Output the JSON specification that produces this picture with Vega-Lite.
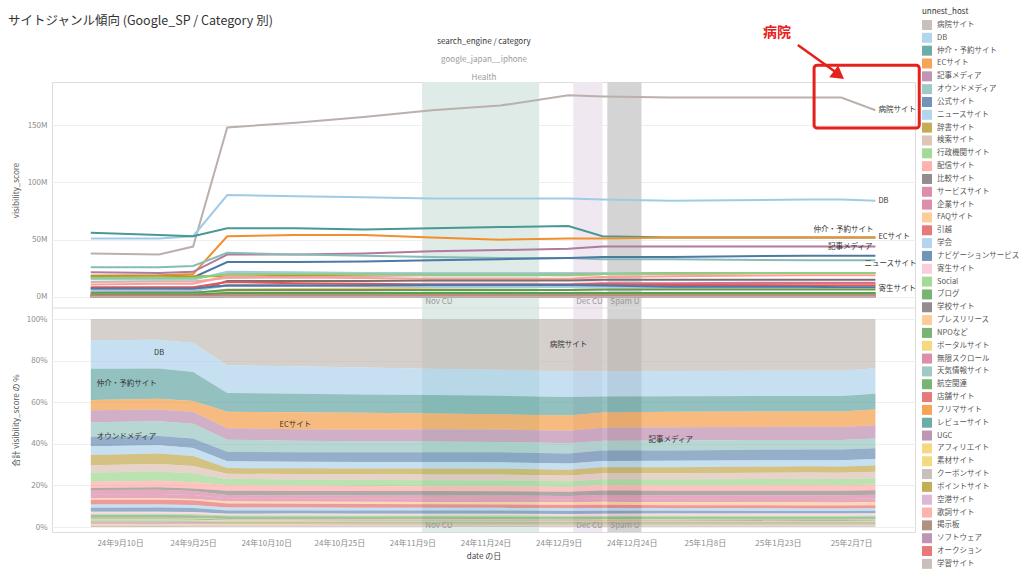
{
"$schema": "https://vega.github.io/schema/vega-lite/v6.json",
"width": 863, "height": 450,
"autosize": {"type": "none"},
"padding": {"left": 52, "top": 82, "right": 109, "bottom": 39},
"background": "white",
"config": {
  "font": "Noto Sans CJK JP",
  "view": {"stroke": "#dcdcdc"},
  "axis": {"labelFontSize": 8, "labelColor": "#8c8c8c", "titleFontSize": 8, "titleFontWeight": "normal", "titleColor": "#555555", "domain": false, "ticks": false, "gridColor": "#efefef"},
  "legend": {"labelFont": "Noto Sans CJK JP", "titleFont": "Noto Sans CJK JP"}
},
"title": {"text": "サイトジャンル傾向 (Google_SP / Category 別)", "anchor": "start", "frame": "group", "dx": -44, "offset": -19, "fontSize": 12.5, "fontWeight": "normal", "color": "#333333"},
"datasets": {
  "hosts": [
    {"h":0,"host":"病院サイト"},{"h":1,"host":"DB"},{"h":2,"host":"仲介・予約サイト"},{"h":3,"host":"ECサイト"},{"h":4,"host":"記事メディア"},{"h":5,"host":"オウンドメディア"},{"h":6,"host":"公式サイト"},{"h":7,"host":"ニュースサイト"},{"h":8,"host":"辞書サイト"},{"h":9,"host":"検索サイト"},{"h":10,"host":"行政機関サイト"},{"h":11,"host":"配信サイト"},{"h":12,"host":"比較サイト"},{"h":13,"host":"サービスサイト"},{"h":14,"host":"企業サイト"},{"h":15,"host":"FAQサイト"},{"h":16,"host":"引越"},{"h":17,"host":"学会"},{"h":18,"host":"ナビゲーションサービス"},{"h":19,"host":"寄生サイト"},{"h":20,"host":"Social"},{"h":21,"host":"ブログ"},{"h":22,"host":"学校サイト"},{"h":23,"host":"プレスリリース"},{"h":24,"host":"NPOなど"},{"h":25,"host":"ポータルサイト"},{"h":26,"host":"無限スクロール"},{"h":27,"host":"天気情報サイト"},{"h":28,"host":"航空関連"},{"h":29,"host":"店舗サイト"},{"h":30,"host":"フリマサイト"},{"h":31,"host":"レビューサイト"},{"h":32,"host":"UGC"},{"h":33,"host":"アフィリエイト"},{"h":34,"host":"素材サイト"},{"h":35,"host":"クーポンサイト"},{"h":36,"host":"ポイントサイト"},{"h":37,"host":"空港サイト"},{"h":38,"host":"歌詞サイト"},{"h":39,"host":"掲示板"},{"h":40,"host":"ソフトウェア"},{"h":41,"host":"オークション"},{"h":42,"host":"学習サイト"}
  ],
  "bands": [
    {"update":"Nov CU","start":"2024-11-11","end":"2024-12-05"},
    {"update":"Dec CU","start":"2024-12-12","end":"2024-12-18"},
    {"update":"Spam U","start":"2024-12-19","end":"2024-12-26"}
  ],
  "rows": [
{"h":0,"d":"2024-09-04","v":38},{"h":0,"d":"2024-09-18","v":37},{"h":0,"d":"2024-09-25","v":44},{"h":0,"d":"2024-10-02","v":148},{"h":0,"d":"2024-10-16","v":152},{"h":0,"d":"2024-10-30","v":157},{"h":0,"d":"2024-11-13","v":163},{"h":0,"d":"2024-11-27","v":167},{"h":0,"d":"2024-12-11","v":176},{"h":0,"d":"2024-12-18","v":175},{"h":0,"d":"2025-01-01","v":174},{"h":0,"d":"2025-01-29","v":174},{"h":0,"d":"2025-02-05","v":174},{"h":0,"d":"2025-02-12","v":163},
{"h":1,"d":"2024-09-04","v":51},{"h":1,"d":"2024-09-18","v":51},{"h":1,"d":"2024-09-25","v":53},{"h":1,"d":"2024-10-02","v":89},{"h":1,"d":"2024-10-16","v":88},{"h":1,"d":"2024-10-30","v":87},{"h":1,"d":"2024-11-13","v":86},{"h":1,"d":"2024-11-27","v":86},{"h":1,"d":"2024-12-11","v":86},{"h":1,"d":"2024-12-18","v":85},{"h":1,"d":"2025-01-01","v":84},{"h":1,"d":"2025-01-29","v":85},{"h":1,"d":"2025-02-05","v":85},{"h":1,"d":"2025-02-12","v":84},
{"h":2,"d":"2024-09-04","v":56},{"h":2,"d":"2024-09-18","v":54},{"h":2,"d":"2024-09-25","v":53},{"h":2,"d":"2024-10-02","v":60},{"h":2,"d":"2024-10-16","v":60},{"h":2,"d":"2024-10-30","v":59},{"h":2,"d":"2024-11-13","v":60},{"h":2,"d":"2024-11-27","v":61},{"h":2,"d":"2024-12-11","v":62},{"h":2,"d":"2024-12-18","v":53},{"h":2,"d":"2025-01-01","v":52},{"h":2,"d":"2025-01-29","v":52},{"h":2,"d":"2025-02-05","v":52},{"h":2,"d":"2025-02-12","v":52},
{"h":3,"d":"2024-09-04","v":18.5},{"h":3,"d":"2024-09-18","v":19},{"h":3,"d":"2024-09-25","v":20},{"h":3,"d":"2024-10-02","v":53},{"h":3,"d":"2024-10-16","v":54},{"h":3,"d":"2024-10-30","v":54},{"h":3,"d":"2024-11-13","v":52},{"h":3,"d":"2024-11-27","v":50},{"h":3,"d":"2024-12-11","v":51},{"h":3,"d":"2024-12-18","v":51},{"h":3,"d":"2025-01-01","v":52},{"h":3,"d":"2025-01-29","v":52},{"h":3,"d":"2025-02-05","v":52},{"h":3,"d":"2025-02-12","v":52},
{"h":4,"d":"2024-09-04","v":21.5},{"h":4,"d":"2024-09-18","v":21},{"h":4,"d":"2024-09-25","v":22},{"h":4,"d":"2024-10-02","v":37},{"h":4,"d":"2024-10-16","v":37},{"h":4,"d":"2024-10-30","v":38},{"h":4,"d":"2024-11-13","v":40},{"h":4,"d":"2024-11-27","v":41},{"h":4,"d":"2024-12-11","v":42},{"h":4,"d":"2024-12-18","v":44},{"h":4,"d":"2025-01-01","v":44},{"h":4,"d":"2025-01-29","v":44},{"h":4,"d":"2025-02-05","v":44},{"h":4,"d":"2025-02-12","v":44},
{"h":5,"d":"2024-09-04","v":26},{"h":5,"d":"2024-09-18","v":26},{"h":5,"d":"2024-09-25","v":27},{"h":5,"d":"2024-10-02","v":38.5},{"h":5,"d":"2024-10-16","v":37},{"h":5,"d":"2024-10-30","v":36},{"h":5,"d":"2024-11-13","v":35},{"h":5,"d":"2024-11-27","v":34},{"h":5,"d":"2024-12-11","v":34},{"h":5,"d":"2024-12-18","v":33},{"h":5,"d":"2025-01-01","v":33},{"h":5,"d":"2025-01-29","v":32},{"h":5,"d":"2025-02-05","v":32},{"h":5,"d":"2025-02-12","v":32},
{"h":6,"d":"2024-09-04","v":17},{"h":6,"d":"2024-09-18","v":16.5},{"h":6,"d":"2024-09-25","v":17},{"h":6,"d":"2024-10-02","v":30.5},{"h":6,"d":"2024-10-16","v":30.5},{"h":6,"d":"2024-10-30","v":31},{"h":6,"d":"2024-11-13","v":32},{"h":6,"d":"2024-11-27","v":33},{"h":6,"d":"2024-12-11","v":34},{"h":6,"d":"2024-12-18","v":35},{"h":6,"d":"2025-01-01","v":35},{"h":6,"d":"2025-01-29","v":36},{"h":6,"d":"2025-02-05","v":36},{"h":6,"d":"2025-02-12","v":36},
{"h":7,"d":"2024-09-04","v":15.5},{"h":7,"d":"2024-09-18","v":15},{"h":7,"d":"2024-09-25","v":15},{"h":7,"d":"2024-10-02","v":22},{"h":7,"d":"2024-10-16","v":21.5},{"h":7,"d":"2024-10-30","v":21},{"h":7,"d":"2024-11-13","v":21},{"h":7,"d":"2024-11-27","v":21},{"h":7,"d":"2024-12-11","v":21},{"h":7,"d":"2024-12-18","v":21},{"h":7,"d":"2025-01-01","v":21},{"h":7,"d":"2025-01-29","v":21},{"h":7,"d":"2025-02-05","v":21},{"h":7,"d":"2025-02-12","v":21},
{"h":8,"d":"2024-09-04","v":18.5},{"h":8,"d":"2024-09-18","v":18.5},{"h":8,"d":"2024-09-25","v":18},{"h":8,"d":"2024-10-02","v":18},{"h":8,"d":"2024-10-16","v":18.5},{"h":8,"d":"2024-10-30","v":19},{"h":8,"d":"2024-11-13","v":19.5},{"h":8,"d":"2024-11-27","v":19.5},{"h":8,"d":"2024-12-11","v":19.5},{"h":8,"d":"2024-12-18","v":20},{"h":8,"d":"2025-01-01","v":20.5},{"h":8,"d":"2025-01-29","v":21},{"h":8,"d":"2025-02-05","v":21},{"h":8,"d":"2025-02-12","v":21},
{"h":9,"d":"2024-09-04","v":13},{"h":9,"d":"2024-09-18","v":13.5},{"h":9,"d":"2024-09-25","v":13.5},{"h":9,"d":"2024-10-02","v":16.5},{"h":9,"d":"2024-10-16","v":17},{"h":9,"d":"2024-10-30","v":18},{"h":9,"d":"2024-11-13","v":19},{"h":9,"d":"2024-11-27","v":19},{"h":9,"d":"2024-12-11","v":19},{"h":9,"d":"2024-12-18","v":20},{"h":9,"d":"2025-01-01","v":20},{"h":9,"d":"2025-01-29","v":21},{"h":9,"d":"2025-02-05","v":21},{"h":9,"d":"2025-02-12","v":21},
{"h":10,"d":"2024-09-04","v":16.5},{"h":10,"d":"2024-09-18","v":16.5},{"h":10,"d":"2024-09-25","v":16.5},{"h":10,"d":"2024-10-02","v":20},{"h":10,"d":"2024-10-16","v":20},{"h":10,"d":"2024-10-30","v":20},{"h":10,"d":"2024-11-13","v":19.5},{"h":10,"d":"2024-11-27","v":19.5},{"h":10,"d":"2024-12-11","v":19},{"h":10,"d":"2024-12-18","v":20},{"h":10,"d":"2025-01-01","v":20.5},{"h":10,"d":"2025-01-29","v":21},{"h":10,"d":"2025-02-05","v":21},{"h":10,"d":"2025-02-12","v":21},
{"h":11,"d":"2024-09-04","v":11},{"h":11,"d":"2024-09-18","v":11.5},{"h":11,"d":"2024-09-25","v":11.5},{"h":11,"d":"2024-10-02","v":18},{"h":11,"d":"2024-10-16","v":17},{"h":11,"d":"2024-10-30","v":16.5},{"h":11,"d":"2024-11-13","v":16},{"h":11,"d":"2024-11-27","v":16},{"h":11,"d":"2024-12-11","v":16},{"h":11,"d":"2024-12-18","v":17.5},{"h":11,"d":"2025-01-01","v":18},{"h":11,"d":"2025-01-29","v":19},{"h":11,"d":"2025-02-05","v":19},{"h":11,"d":"2025-02-12","v":19},
{"h":12,"d":"2024-09-04","v":4},{"h":12,"d":"2024-09-18","v":4.5},{"h":12,"d":"2024-09-25","v":4.5},{"h":12,"d":"2024-10-02","v":14},{"h":12,"d":"2024-10-16","v":14},{"h":12,"d":"2024-10-30","v":14},{"h":12,"d":"2024-11-13","v":14.5},{"h":12,"d":"2024-11-27","v":14.5},{"h":12,"d":"2024-12-11","v":14.5},{"h":12,"d":"2024-12-18","v":15},{"h":12,"d":"2025-01-01","v":15},{"h":12,"d":"2025-01-29","v":15},{"h":12,"d":"2025-02-05","v":15},{"h":12,"d":"2025-02-12","v":15},
{"h":13,"d":"2024-09-04","v":7.4},{"h":13,"d":"2024-09-18","v":7.5},{"h":13,"d":"2024-09-25","v":7.5},{"h":13,"d":"2024-10-02","v":10},{"h":13,"d":"2024-10-16","v":10},{"h":13,"d":"2024-10-30","v":10.5},{"h":13,"d":"2024-11-13","v":11},{"h":13,"d":"2024-11-27","v":11},{"h":13,"d":"2024-12-11","v":11},{"h":13,"d":"2024-12-18","v":12},{"h":13,"d":"2025-01-01","v":12},{"h":13,"d":"2025-01-29","v":12.5},{"h":13,"d":"2025-02-05","v":12.5},{"h":13,"d":"2025-02-12","v":12.5},
{"h":14,"d":"2024-09-04","v":7.4},{"h":14,"d":"2024-09-18","v":7.4},{"h":14,"d":"2024-09-25","v":7},{"h":14,"d":"2024-10-02","v":10},{"h":14,"d":"2024-10-16","v":10},{"h":14,"d":"2024-10-30","v":10},{"h":14,"d":"2024-11-13","v":10},{"h":14,"d":"2024-11-27","v":10},{"h":14,"d":"2024-12-11","v":10},{"h":14,"d":"2024-12-18","v":11},{"h":14,"d":"2025-01-01","v":11},{"h":14,"d":"2025-01-29","v":11.5},{"h":14,"d":"2025-02-05","v":11.5},{"h":14,"d":"2025-02-12","v":11.5},
{"h":15,"d":"2024-09-04","v":2.6},{"h":15,"d":"2024-09-18","v":2.6},{"h":15,"d":"2024-09-25","v":2.5},{"h":15,"d":"2024-10-02","v":6.6},{"h":15,"d":"2024-10-16","v":7},{"h":15,"d":"2024-10-30","v":7.5},{"h":15,"d":"2024-11-13","v":8},{"h":15,"d":"2024-11-27","v":8.5},{"h":15,"d":"2024-12-11","v":9},{"h":15,"d":"2024-12-18","v":10},{"h":15,"d":"2025-01-01","v":10},{"h":15,"d":"2025-01-29","v":10.5},{"h":15,"d":"2025-02-05","v":10.5},{"h":15,"d":"2025-02-12","v":10.5},
{"h":16,"d":"2024-09-04","v":8.5},{"h":16,"d":"2024-09-18","v":8.5},{"h":16,"d":"2024-09-25","v":8.5},{"h":16,"d":"2024-10-02","v":13},{"h":16,"d":"2024-10-16","v":12},{"h":16,"d":"2024-10-30","v":11.5},{"h":16,"d":"2024-11-13","v":11},{"h":16,"d":"2024-11-27","v":11},{"h":16,"d":"2024-12-11","v":11},{"h":16,"d":"2024-12-18","v":11},{"h":16,"d":"2025-01-01","v":10.5},{"h":16,"d":"2025-01-29","v":10},{"h":16,"d":"2025-02-05","v":10},{"h":16,"d":"2025-02-12","v":10},
{"h":17,"d":"2024-09-04","v":5.5},{"h":17,"d":"2024-09-18","v":5.5},{"h":17,"d":"2024-09-25","v":5.5},{"h":17,"d":"2024-10-02","v":10},{"h":17,"d":"2024-10-16","v":10},{"h":17,"d":"2024-10-30","v":9.5},{"h":17,"d":"2024-11-13","v":9},{"h":17,"d":"2024-11-27","v":9},{"h":17,"d":"2024-12-11","v":9},{"h":17,"d":"2024-12-18","v":9},{"h":17,"d":"2025-01-01","v":8.5},{"h":17,"d":"2025-01-29","v":8.5},{"h":17,"d":"2025-02-05","v":8.5},{"h":17,"d":"2025-02-12","v":8.5},
{"h":18,"d":"2024-09-04","v":7.4},{"h":18,"d":"2024-09-18","v":7.4},{"h":18,"d":"2024-09-25","v":7.5},{"h":18,"d":"2024-10-02","v":10},{"h":18,"d":"2024-10-16","v":10},{"h":18,"d":"2024-10-30","v":10},{"h":18,"d":"2024-11-13","v":10.5},{"h":18,"d":"2024-11-27","v":10.5},{"h":18,"d":"2024-12-11","v":10.5},{"h":18,"d":"2024-12-18","v":10},{"h":18,"d":"2025-01-01","v":9},{"h":18,"d":"2025-01-29","v":9},{"h":18,"d":"2025-02-05","v":8.5},{"h":18,"d":"2025-02-12","v":8.5},
{"h":19,"d":"2024-09-04","v":3.7},{"h":19,"d":"2024-09-18","v":3.7},{"h":19,"d":"2024-09-25","v":3.8},{"h":19,"d":"2024-10-02","v":5.3},{"h":19,"d":"2024-10-16","v":5.5},{"h":19,"d":"2024-10-30","v":5.5},{"h":19,"d":"2024-11-13","v":6},{"h":19,"d":"2024-11-27","v":6},{"h":19,"d":"2024-12-11","v":6},{"h":19,"d":"2024-12-18","v":6.5},{"h":19,"d":"2025-01-01","v":7},{"h":19,"d":"2025-01-29","v":7},{"h":19,"d":"2025-02-05","v":7},{"h":19,"d":"2025-02-12","v":7},
{"h":20,"d":"2024-09-04","v":1.9},{"h":20,"d":"2024-09-18","v":1.9},{"h":20,"d":"2024-09-25","v":1.9},{"h":20,"d":"2024-10-02","v":3.3},{"h":20,"d":"2024-10-16","v":3.5},{"h":20,"d":"2024-10-30","v":3.5},{"h":20,"d":"2024-11-13","v":3.5},{"h":20,"d":"2024-11-27","v":3.5},{"h":20,"d":"2024-12-11","v":3.5},{"h":20,"d":"2024-12-18","v":3.5},{"h":20,"d":"2025-01-01","v":3.5},{"h":20,"d":"2025-01-29","v":3.5},{"h":20,"d":"2025-02-05","v":3.5},{"h":20,"d":"2025-02-12","v":3.5},
{"h":21,"d":"2024-09-04","v":3.7},{"h":21,"d":"2024-09-18","v":3.7},{"h":21,"d":"2024-09-25","v":3.7},{"h":21,"d":"2024-10-02","v":6},{"h":21,"d":"2024-10-16","v":6},{"h":21,"d":"2024-10-30","v":6},{"h":21,"d":"2024-11-13","v":6},{"h":21,"d":"2024-11-27","v":6},{"h":21,"d":"2024-12-11","v":6},{"h":21,"d":"2024-12-18","v":6.5},{"h":21,"d":"2025-01-01","v":6.5},{"h":21,"d":"2025-01-29","v":6.5},{"h":21,"d":"2025-02-05","v":6.5},{"h":21,"d":"2025-02-12","v":6.5},
{"h":22,"d":"2024-09-04","v":1.5},{"h":22,"d":"2024-09-18","v":1.5},{"h":22,"d":"2024-09-25","v":1.5},{"h":22,"d":"2024-10-02","v":2.5},{"h":22,"d":"2024-10-16","v":2.5},{"h":22,"d":"2024-10-30","v":2.5},{"h":22,"d":"2024-11-13","v":2.5},{"h":22,"d":"2024-11-27","v":2.5},{"h":22,"d":"2024-12-11","v":2.5},{"h":22,"d":"2024-12-18","v":2.5},{"h":22,"d":"2025-01-01","v":2.5},{"h":22,"d":"2025-01-29","v":2.5},{"h":22,"d":"2025-02-05","v":2.5},{"h":22,"d":"2025-02-12","v":2.5},
{"h":23,"d":"2024-09-04","v":1},{"h":23,"d":"2024-09-18","v":1},{"h":23,"d":"2024-09-25","v":1},{"h":23,"d":"2024-10-02","v":1.5},{"h":23,"d":"2024-10-16","v":1.5},{"h":23,"d":"2024-10-30","v":1.5},{"h":23,"d":"2024-11-13","v":1.5},{"h":23,"d":"2024-11-27","v":1.5},{"h":23,"d":"2024-12-11","v":1.5},{"h":23,"d":"2024-12-18","v":1.5},{"h":23,"d":"2025-01-01","v":1.5},{"h":23,"d":"2025-01-29","v":1.5},{"h":23,"d":"2025-02-05","v":1.5},{"h":23,"d":"2025-02-12","v":1.5},
{"h":24,"d":"2024-09-04","v":2},{"h":24,"d":"2024-09-18","v":2},{"h":24,"d":"2024-09-25","v":2},{"h":24,"d":"2024-10-02","v":3.5},{"h":24,"d":"2024-10-16","v":3.5},{"h":24,"d":"2024-10-30","v":3.5},{"h":24,"d":"2024-11-13","v":3.5},{"h":24,"d":"2024-11-27","v":3.5},{"h":24,"d":"2024-12-11","v":3.5},{"h":24,"d":"2024-12-18","v":3.5},{"h":24,"d":"2025-01-01","v":3.5},{"h":24,"d":"2025-01-29","v":3.5},{"h":24,"d":"2025-02-05","v":3.5},{"h":24,"d":"2025-02-12","v":3.5},
{"h":25,"d":"2024-09-04","v":1.5},{"h":25,"d":"2024-09-18","v":1.5},{"h":25,"d":"2024-09-25","v":1.5},{"h":25,"d":"2024-10-02","v":2},{"h":25,"d":"2024-10-16","v":2},{"h":25,"d":"2024-10-30","v":2},{"h":25,"d":"2024-11-13","v":2},{"h":25,"d":"2024-11-27","v":2},{"h":25,"d":"2024-12-11","v":2},{"h":25,"d":"2024-12-18","v":2},{"h":25,"d":"2025-01-01","v":2},{"h":25,"d":"2025-01-29","v":2},{"h":25,"d":"2025-02-05","v":2},{"h":25,"d":"2025-02-12","v":2},
{"h":26,"d":"2024-09-04","v":1},{"h":26,"d":"2024-09-18","v":1},{"h":26,"d":"2024-09-25","v":1},{"h":26,"d":"2024-10-02","v":1.5},{"h":26,"d":"2024-10-16","v":1.5},{"h":26,"d":"2024-10-30","v":1.5},{"h":26,"d":"2024-11-13","v":1.5},{"h":26,"d":"2024-11-27","v":1.5},{"h":26,"d":"2024-12-11","v":1.5},{"h":26,"d":"2024-12-18","v":1.5},{"h":26,"d":"2025-01-01","v":1.5},{"h":26,"d":"2025-01-29","v":1.5},{"h":26,"d":"2025-02-05","v":1.5},{"h":26,"d":"2025-02-12","v":1.5},
{"h":27,"d":"2024-09-04","v":1},{"h":27,"d":"2024-09-18","v":1},{"h":27,"d":"2024-09-25","v":1},{"h":27,"d":"2024-10-02","v":1.5},{"h":27,"d":"2024-10-16","v":1.5},{"h":27,"d":"2024-10-30","v":1.5},{"h":27,"d":"2024-11-13","v":1.5},{"h":27,"d":"2024-11-27","v":1.5},{"h":27,"d":"2024-12-11","v":1.5},{"h":27,"d":"2024-12-18","v":1.5},{"h":27,"d":"2025-01-01","v":1.5},{"h":27,"d":"2025-01-29","v":1.5},{"h":27,"d":"2025-02-05","v":1.5},{"h":27,"d":"2025-02-12","v":1.5},
{"h":28,"d":"2024-09-04","v":1.5},{"h":28,"d":"2024-09-18","v":1.5},{"h":28,"d":"2024-09-25","v":1.5},{"h":28,"d":"2024-10-02","v":3},{"h":28,"d":"2024-10-16","v":3},{"h":28,"d":"2024-10-30","v":3},{"h":28,"d":"2024-11-13","v":3},{"h":28,"d":"2024-11-27","v":3},{"h":28,"d":"2024-12-11","v":3},{"h":28,"d":"2024-12-18","v":3},{"h":28,"d":"2025-01-01","v":3},{"h":28,"d":"2025-01-29","v":3},{"h":28,"d":"2025-02-05","v":3},{"h":28,"d":"2025-02-12","v":3},
{"h":29,"d":"2024-09-04","v":1},{"h":29,"d":"2024-09-18","v":1},{"h":29,"d":"2024-09-25","v":1},{"h":29,"d":"2024-10-02","v":1.5},{"h":29,"d":"2024-10-16","v":1.5},{"h":29,"d":"2024-10-30","v":1.5},{"h":29,"d":"2024-11-13","v":1.5},{"h":29,"d":"2024-11-27","v":1.5},{"h":29,"d":"2024-12-11","v":1.5},{"h":29,"d":"2024-12-18","v":1.5},{"h":29,"d":"2025-01-01","v":1.5},{"h":29,"d":"2025-01-29","v":1.5},{"h":29,"d":"2025-02-05","v":1.5},{"h":29,"d":"2025-02-12","v":1.5},
{"h":30,"d":"2024-09-04","v":0.8},{"h":30,"d":"2024-09-18","v":0.8},{"h":30,"d":"2024-09-25","v":0.8},{"h":30,"d":"2024-10-02","v":1.2},{"h":30,"d":"2024-10-16","v":1.2},{"h":30,"d":"2024-10-30","v":1.2},{"h":30,"d":"2024-11-13","v":1.2},{"h":30,"d":"2024-11-27","v":1.2},{"h":30,"d":"2024-12-11","v":1.2},{"h":30,"d":"2024-12-18","v":1.2},{"h":30,"d":"2025-01-01","v":1.2},{"h":30,"d":"2025-01-29","v":1.2},{"h":30,"d":"2025-02-05","v":1.2},{"h":30,"d":"2025-02-12","v":1.2},
{"h":31,"d":"2024-09-04","v":0.8},{"h":31,"d":"2024-09-18","v":0.8},{"h":31,"d":"2024-09-25","v":0.8},{"h":31,"d":"2024-10-02","v":1.2},{"h":31,"d":"2024-10-16","v":1.2},{"h":31,"d":"2024-10-30","v":1.2},{"h":31,"d":"2024-11-13","v":1.2},{"h":31,"d":"2024-11-27","v":1.2},{"h":31,"d":"2024-12-11","v":1.2},{"h":31,"d":"2024-12-18","v":1.2},{"h":31,"d":"2025-01-01","v":1.2},{"h":31,"d":"2025-01-29","v":1.2},{"h":31,"d":"2025-02-05","v":1.2},{"h":31,"d":"2025-02-12","v":1.2},
{"h":32,"d":"2024-09-04","v":0.8},{"h":32,"d":"2024-09-18","v":0.8},{"h":32,"d":"2024-09-25","v":0.8},{"h":32,"d":"2024-10-02","v":1},{"h":32,"d":"2024-10-16","v":1},{"h":32,"d":"2024-10-30","v":1},{"h":32,"d":"2024-11-13","v":1},{"h":32,"d":"2024-11-27","v":1},{"h":32,"d":"2024-12-11","v":1},{"h":32,"d":"2024-12-18","v":1},{"h":32,"d":"2025-01-01","v":1},{"h":32,"d":"2025-01-29","v":1},{"h":32,"d":"2025-02-05","v":1},{"h":32,"d":"2025-02-12","v":1},
{"h":33,"d":"2024-09-04","v":0.7},{"h":33,"d":"2024-09-18","v":0.7},{"h":33,"d":"2024-09-25","v":0.7},{"h":33,"d":"2024-10-02","v":1},{"h":33,"d":"2024-10-16","v":1},{"h":33,"d":"2024-10-30","v":1},{"h":33,"d":"2024-11-13","v":1},{"h":33,"d":"2024-11-27","v":1},{"h":33,"d":"2024-12-11","v":1},{"h":33,"d":"2024-12-18","v":1},{"h":33,"d":"2025-01-01","v":1},{"h":33,"d":"2025-01-29","v":1},{"h":33,"d":"2025-02-05","v":1},{"h":33,"d":"2025-02-12","v":1},
{"h":34,"d":"2024-09-04","v":0.6},{"h":34,"d":"2024-09-18","v":0.6},{"h":34,"d":"2024-09-25","v":0.6},{"h":34,"d":"2024-10-02","v":0.9},{"h":34,"d":"2024-10-16","v":0.9},{"h":34,"d":"2024-10-30","v":0.9},{"h":34,"d":"2024-11-13","v":0.9},{"h":34,"d":"2024-11-27","v":0.9},{"h":34,"d":"2024-12-11","v":0.9},{"h":34,"d":"2024-12-18","v":0.9},{"h":34,"d":"2025-01-01","v":0.9},{"h":34,"d":"2025-01-29","v":0.9},{"h":34,"d":"2025-02-05","v":0.9},{"h":34,"d":"2025-02-12","v":0.9},
{"h":35,"d":"2024-09-04","v":0.6},{"h":35,"d":"2024-09-18","v":0.6},{"h":35,"d":"2024-09-25","v":0.6},{"h":35,"d":"2024-10-02","v":0.9},{"h":35,"d":"2024-10-16","v":0.9},{"h":35,"d":"2024-10-30","v":0.9},{"h":35,"d":"2024-11-13","v":0.9},{"h":35,"d":"2024-11-27","v":0.9},{"h":35,"d":"2024-12-11","v":0.9},{"h":35,"d":"2024-12-18","v":0.9},{"h":35,"d":"2025-01-01","v":0.9},{"h":35,"d":"2025-01-29","v":0.9},{"h":35,"d":"2025-02-05","v":0.9},{"h":35,"d":"2025-02-12","v":0.9},
{"h":36,"d":"2024-09-04","v":0.6},{"h":36,"d":"2024-09-18","v":0.6},{"h":36,"d":"2024-09-25","v":0.6},{"h":36,"d":"2024-10-02","v":0.9},{"h":36,"d":"2024-10-16","v":0.9},{"h":36,"d":"2024-10-30","v":0.9},{"h":36,"d":"2024-11-13","v":0.9},{"h":36,"d":"2024-11-27","v":0.9},{"h":36,"d":"2024-12-11","v":0.9},{"h":36,"d":"2024-12-18","v":0.9},{"h":36,"d":"2025-01-01","v":0.9},{"h":36,"d":"2025-01-29","v":0.9},{"h":36,"d":"2025-02-05","v":0.9},{"h":36,"d":"2025-02-12","v":0.9},
{"h":37,"d":"2024-09-04","v":0.5},{"h":37,"d":"2024-09-18","v":0.5},{"h":37,"d":"2024-09-25","v":0.5},{"h":37,"d":"2024-10-02","v":0.8},{"h":37,"d":"2024-10-16","v":0.8},{"h":37,"d":"2024-10-30","v":0.8},{"h":37,"d":"2024-11-13","v":0.8},{"h":37,"d":"2024-11-27","v":0.8},{"h":37,"d":"2024-12-11","v":0.8},{"h":37,"d":"2024-12-18","v":0.8},{"h":37,"d":"2025-01-01","v":0.8},{"h":37,"d":"2025-01-29","v":0.8},{"h":37,"d":"2025-02-05","v":0.8},{"h":37,"d":"2025-02-12","v":0.8},
{"h":38,"d":"2024-09-04","v":0.5},{"h":38,"d":"2024-09-18","v":0.5},{"h":38,"d":"2024-09-25","v":0.5},{"h":38,"d":"2024-10-02","v":0.8},{"h":38,"d":"2024-10-16","v":0.8},{"h":38,"d":"2024-10-30","v":0.8},{"h":38,"d":"2024-11-13","v":0.8},{"h":38,"d":"2024-11-27","v":0.8},{"h":38,"d":"2024-12-11","v":0.8},{"h":38,"d":"2024-12-18","v":0.8},{"h":38,"d":"2025-01-01","v":0.8},{"h":38,"d":"2025-01-29","v":0.8},{"h":38,"d":"2025-02-05","v":0.8},{"h":38,"d":"2025-02-12","v":0.8},
{"h":39,"d":"2024-09-04","v":0.5},{"h":39,"d":"2024-09-18","v":0.5},{"h":39,"d":"2024-09-25","v":0.5},{"h":39,"d":"2024-10-02","v":0.7},{"h":39,"d":"2024-10-16","v":0.7},{"h":39,"d":"2024-10-30","v":0.7},{"h":39,"d":"2024-11-13","v":0.7},{"h":39,"d":"2024-11-27","v":0.7},{"h":39,"d":"2024-12-11","v":0.7},{"h":39,"d":"2024-12-18","v":0.7},{"h":39,"d":"2025-01-01","v":0.7},{"h":39,"d":"2025-01-29","v":0.7},{"h":39,"d":"2025-02-05","v":0.7},{"h":39,"d":"2025-02-12","v":0.7},
{"h":40,"d":"2024-09-04","v":0.4},{"h":40,"d":"2024-09-18","v":0.4},{"h":40,"d":"2024-09-25","v":0.4},{"h":40,"d":"2024-10-02","v":0.6},{"h":40,"d":"2024-10-16","v":0.6},{"h":40,"d":"2024-10-30","v":0.6},{"h":40,"d":"2024-11-13","v":0.6},{"h":40,"d":"2024-11-27","v":0.6},{"h":40,"d":"2024-12-11","v":0.6},{"h":40,"d":"2024-12-18","v":0.6},{"h":40,"d":"2025-01-01","v":0.6},{"h":40,"d":"2025-01-29","v":0.6},{"h":40,"d":"2025-02-05","v":0.6},{"h":40,"d":"2025-02-12","v":0.6},
{"h":41,"d":"2024-09-04","v":0.4},{"h":41,"d":"2024-09-18","v":0.4},{"h":41,"d":"2024-09-25","v":0.4},{"h":41,"d":"2024-10-02","v":0.6},{"h":41,"d":"2024-10-16","v":0.6},{"h":41,"d":"2024-10-30","v":0.6},{"h":41,"d":"2024-11-13","v":0.6},{"h":41,"d":"2024-11-27","v":0.6},{"h":41,"d":"2024-12-11","v":0.6},{"h":41,"d":"2024-12-18","v":0.6},{"h":41,"d":"2025-01-01","v":0.6},{"h":41,"d":"2025-01-29","v":0.6},{"h":41,"d":"2025-02-05","v":0.6},{"h":41,"d":"2025-02-12","v":0.6},
{"h":42,"d":"2024-09-04","v":0.3},{"h":42,"d":"2024-09-18","v":0.3},{"h":42,"d":"2024-09-25","v":0.3},{"h":42,"d":"2024-10-02","v":0.5},{"h":42,"d":"2024-10-16","v":0.5},{"h":42,"d":"2024-10-30","v":0.5},{"h":42,"d":"2024-11-13","v":0.5},{"h":42,"d":"2024-11-27","v":0.5},{"h":42,"d":"2024-12-11","v":0.5},{"h":42,"d":"2024-12-18","v":0.5},{"h":42,"d":"2025-01-01","v":0.5},{"h":42,"d":"2025-01-29","v":0.5},{"h":42,"d":"2025-02-05","v":0.5},{"h":42,"d":"2025-02-12","v":0.5}
  ]
},
"data": {"name": "rows"},
"transform": [{"lookup": "h", "from": {"data": {"name": "hosts"}, "key": "h", "fields": ["host"]}}],
"layer": [
  {
    "data": {"name": "bands"},
    "mark": {"type": "rect"},
    "encoding": {
      "x": {"field": "start", "type": "temporal", "scale": {"type": "utc", "nice": false, "domain": [{"year": 2024, "month": 8, "date": 27, "hours": 1, "utc": true}, {"year": 2025, "month": 2, "date": 20, "hours": 3, "utc": true}]},
            "axis": {"orient": "top", "title": "search_engine / category", "labels": false, "grid": false, "titleY": -41, "titleBaseline": "middle", "titleColor": "#333333", "titleFontSize": 8}},
      "x2": {"field": "end"},
      "fill": {"field": "update", "type": "nominal", "scale": {"domain": ["Nov CU", "Dec CU", "Spam U"], "range": ["#deebe6", "#efe8f0", "#d4d4d4"]}, "legend": null}
    }
  },
  {
    "transform": [{"stack": "v", "groupby": ["d"], "sort": [{"field": "h", "order": "descending"}], "offset": "normalize", "as": ["y0", "y1"]}],
    "layer": [
      {
        "mark": {"type": "area", "fillOpacity": 0.6},
        "encoding": {
          "x": {"field": "d", "type": "temporal", "scale": {"type": "utc", "nice": false, "domain": [{"year": 2024, "month": 8, "date": 27, "hours": 1, "utc": true}, {"year": 2025, "month": 2, "date": 20, "hours": 3, "utc": true}]},
                "axis": {"orient": "bottom", "title": "date の日", "grid": false, "labelPadding": 7, "titlePadding": 5, "titleColor": "#444444", "labelFlush": false, "labelOverlap": false,
                  "values": [{"year":2024,"month":9,"date":10,"utc":true},{"year":2024,"month":9,"date":25,"utc":true},{"year":2024,"month":10,"date":10,"utc":true},{"year":2024,"month":10,"date":25,"utc":true},{"year":2024,"month":11,"date":9,"utc":true},{"year":2024,"month":11,"date":24,"utc":true},{"year":2024,"month":12,"date":9,"utc":true},{"year":2024,"month":12,"date":24,"utc":true},{"year":2025,"month":1,"date":8,"utc":true},{"year":2025,"month":1,"date":23,"utc":true},{"year":2025,"month":2,"date":7,"utc":true}],
                  "labelExpr": "utcFormat(datum.value, '%y年%-m月%-d日')"}},
          "y": {"field": "y1", "type": "quantitative", "scale": {"domain": [-0.024, 1.053], "range": [450, 226], "nice": false, "zero": false},
                "axis": {"orient": "left", "values": [0, 0.2, 0.4, 0.6, 0.8, 1], "format": ".0%", "title": "合計 visibility_score の %", "titleX": -36, "titleY": 338, "titleBaseline": "middle", "labelPadding": 5, "grid": true}},
          "y2": {"field": "y0"},
          "color": {"field": "host", "type": "nominal",
            "scale": {"domain": ["病院サイト","DB","仲介・予約サイト","ECサイト","記事メディア","オウンドメディア","公式サイト","ニュースサイト","辞書サイト","検索サイト","行政機関サイト","配信サイト","比較サイト","サービスサイト","企業サイト","FAQサイト","引越","学会","ナビゲーションサービス","寄生サイト","Social","ブログ","学校サイト","プレスリリース","NPOなど","ポータルサイト","無限スクロール","天気情報サイト","航空関連","店舗サイト","フリマサイト","レビューサイト","UGC","アフィリエイト","素材サイト","クーポンサイト","ポイントサイト","空港サイト","歌詞サイト","掲示板","ソフトウェア","オークション","学習サイト"],
              "range": ["#bab0ac","#a0cbe8","#499894","#f28e2b","#b07aa1","#86bcb6","#4e79a7","#a0cbe8","#b6992d","#d7b5a6","#8cd17d","#ff9d9a","#79706e","#d37295","#d37295","#ffbe7d","#e15759","#a0cbe8","#4e79a7","#fabfd2","#8cd17d","#59a14f","#79706e","#ffbe7d","#59a14f","#f1ce63","#d37295","#86bcb6","#59a14f","#e15759","#f28e2b","#499894","#b07aa1","#f1ce63","#f1ce63","#bab0ac","#b6992d","#d4a6c8","#ff9d9a","#9d7660","#b07aa1","#e15759","#bab0ac"]},
            "legend": {"title": "unnest_host", "orient": "none", "legendX": 870, "legendY": -74, "padding": 0, "symbolType": "square", "symbolSize": 100, "symbolOpacity": 0.8, "symbolFillOpacity": 0.8, "symbolStrokeWidth": 0, "labelFontSize": 7.5, "labelColor": "#555555", "titleFontSize": 8, "titleFontWeight": "normal", "titleColor": "#333333", "titlePadding": 4, "rowPadding": 2.83, "labelOffset": 5, "symbolLimit": 100, "labelLimit": 120}}
        }
      },
      {
        "transform": [{"filter": {"and": [{"field": "d", "equal": {"year": 2024, "month": 9, "date": 4, "utc": true}}, {"field": "h", "oneOf": [2, 5]}]}}],
        "mark": {"type": "text", "align": "left", "dx": 6, "dy": 15, "fontSize": 7.5, "color": "#333333"},
        "encoding": {"x": {"field": "d", "type": "temporal"}, "y": {"field": "y1", "type": "quantitative"}, "text": {"field": "host"}}
      },
      {
        "transform": [{"filter": {"or": [
          {"and": [{"field": "h", "equal": 1}, {"field": "d", "equal": {"year": 2024, "month": 9, "date": 18, "utc": true}}]},
          {"and": [{"field": "h", "equal": 3}, {"field": "d", "equal": {"year": 2024, "month": 10, "date": 16, "utc": true}}]},
          {"and": [{"field": "h", "equal": 4}, {"field": "d", "equal": {"year": 2025, "month": 1, "date": 1, "utc": true}}]}]}}],
        "mark": {"type": "text", "align": "center", "dy": 13, "fontSize": 7.5, "color": "#333333"},
        "encoding": {"x": {"field": "d", "type": "temporal"}, "y": {"field": "y1", "type": "quantitative"}, "text": {"field": "host"}}
      },
      {
        "transform": [{"filter": {"and": [{"field": "h", "equal": 0}, {"field": "d", "equal": {"year": 2024, "month": 12, "date": 11, "utc": true}}]}}],
        "mark": {"type": "text", "align": "center", "dy": 26, "fontSize": 7.5, "color": "#333333"},
        "encoding": {"x": {"field": "d", "type": "temporal"}, "y": {"field": "y1", "type": "quantitative"}, "text": {"field": "host"}}
      },
      {
        "data": {"name": "bands"},
        "mark": {"type": "text", "align": "left", "dx": 3, "fontSize": 8, "color": "#999999"},
        "encoding": {"x": {"field": "start", "type": "temporal"}, "y": {"datum": 0.005, "type": "quantitative"}, "text": {"field": "update"}}
      }
    ]
  },
  {
    "layer": [
      {
        "data": {"values": [{}]},
        "mark": {"type": "rule", "color": "#dcdcdc"},
        "encoding": {"y": {"datum": -9.6, "type": "quantitative"}}
      },
      {
        "mark": {"type": "line", "strokeWidth": 2},
        "encoding": {
          "x": {"field": "d", "type": "temporal", "scale": {"type": "utc", "nice": false, "domain": [{"year": 2024, "month": 8, "date": 27, "hours": 1, "utc": true}, {"year": 2025, "month": 2, "date": 20, "hours": 3, "utc": true}]},
                "axis": {"orient": "top", "title": "google_japan__iphone", "labels": false, "grid": false, "titleY": -23, "titleBaseline": "middle", "titleColor": "#9a9a9a"}},
          "y": {"field": "v", "type": "quantitative", "scale": {"domain": [-9.6, 187.6], "range": [226, 0], "nice": false, "zero": false},
                "axis": {"orient": "left", "values": [0, 50, 100, 150], "labelExpr": "datum.value + 'M'", "title": "visibility_score", "titleX": -36, "titleY": 108, "titleBaseline": "middle", "labelPadding": 5, "grid": true}},
          "color": {"field": "host", "type": "nominal"}
        }
      },
      {
        "transform": [{"filter": {"and": [{"field": "d", "equal": {"year": 2025, "month": 2, "date": 12, "utc": true}}, {"field": "h", "oneOf": [0, 1, 3, 19]}]}}],
        "mark": {"type": "text", "align": "left", "dx": 3, "fontSize": 7.5, "color": "#333333"},
        "encoding": {"x": {"field": "d", "type": "temporal"}, "y": {"field": "v", "type": "quantitative"}, "text": {"field": "host"}}
      },
      {
        "transform": [{"filter": {"and": [{"field": "d", "equal": {"year": 2025, "month": 2, "date": 12, "utc": true}}, {"field": "h", "equal": 2}]}}],
        "mark": {"type": "text", "align": "right", "dx": -2, "dy": -7, "fontSize": 7.5, "color": "#333333"},
        "encoding": {"x": {"field": "d", "type": "temporal"}, "y": {"field": "v", "type": "quantitative"}, "text": {"field": "host"}}
      },
      {
        "transform": [{"filter": {"and": [{"field": "d", "equal": {"year": 2025, "month": 2, "date": 12, "utc": true}}, {"field": "h", "equal": 4}]}}],
        "mark": {"type": "text", "align": "right", "dx": -3, "fontSize": 7.5, "color": "#333333"},
        "encoding": {"x": {"field": "d", "type": "temporal"}, "y": {"field": "v", "type": "quantitative"}, "text": {"field": "host"}}
      },
      {
        "transform": [{"filter": {"and": [{"field": "d", "equal": {"year": 2025, "month": 2, "date": 12, "utc": true}}, {"field": "h", "equal": 7}]}}],
        "mark": {"type": "text", "align": "left", "dx": -11, "dy": -9, "fontSize": 7.5, "color": "#333333"},
        "encoding": {"x": {"field": "d", "type": "temporal"}, "y": {"field": "v", "type": "quantitative"}, "text": {"field": "host"}}
      },
      {
        "data": {"name": "bands"},
        "mark": {"type": "text", "align": "left", "dx": 3, "fontSize": 8, "color": "#999999"},
        "encoding": {"x": {"field": "start", "type": "temporal"}, "y": {"datum": -4.4, "type": "quantitative"}, "text": {"field": "update"}}
      }
    ]
  },
  {
    "data": {"values": [{}]},
    "layer": [
      {
        "mark": {"type": "rect", "filled": false, "stroke": "#e6211b", "strokeWidth": 3, "cornerRadius": 3},
        "encoding": {
          "x": {"datum": {"year": 2025, "month": 1, "date": 30, "hours": 10, "utc": true}, "type": "temporal", "scale": {"type": "utc", "nice": false, "domain": [{"year": 2024, "month": 8, "date": 27, "hours": 1, "utc": true}, {"year": 2025, "month": 2, "date": 20, "hours": 3, "utc": true}]},
                "axis": {"orient": "top", "title": "Health", "labels": false, "grid": false, "titleY": -5, "titleBaseline": "middle", "titleColor": "#9a9a9a"}},
          "x2": {"datum": {"year": 2025, "month": 2, "date": 21, "utc": true}},
          "y": {"datum": 202.3, "type": "quantitative", "scale": {"domain": [-9.6, 187.6], "range": [226, 0], "nice": false, "zero": false}, "axis": null},
          "y2": {"datum": 147.4}
        }
      },
      {
        "mark": {"type": "rule", "stroke": "#e6211b", "strokeWidth": 2.5},
        "encoding": {
          "x": {"datum": {"year": 2025, "month": 1, "date": 27, "hours": 2, "utc": true}, "type": "temporal"},
          "x2": {"datum": {"year": 2025, "month": 2, "date": 4, "hours": 6, "utc": true}},
          "y": {"datum": 219.8, "type": "quantitative", "scale": {"domain": [-9.6, 187.6], "range": [226, 0], "nice": false, "zero": false}, "axis": null},
          "y2": {"datum": 195}
        }
      },
      {
        "mark": {"type": "point", "shape": "triangle-right", "filled": true, "color": "#e6211b", "size": 220, "angle": 37, "opacity": 1},
        "encoding": {
          "x": {"datum": {"year": 2025, "month": 2, "date": 4, "hours": 12, "utc": true}, "type": "temporal"},
          "y": {"datum": 193.5, "type": "quantitative", "scale": {"domain": [-9.6, 187.6], "range": [226, 0], "nice": false, "zero": false}, "axis": null}
        }
      },
      {
        "mark": {"type": "text", "text": "病院", "fontSize": 14, "fontWeight": "bold", "color": "#e6211b"},
        "encoding": {
          "x": {"datum": {"year": 2025, "month": 1, "date": 22, "hours": 19, "utc": true}, "type": "temporal"},
          "y": {"datum": 230.2, "type": "quantitative", "scale": {"domain": [-9.6, 187.6], "range": [226, 0], "nice": false, "zero": false}, "axis": null}
        }
      }
    ]
  }
],
"resolve": {"scale": {"y": "independent"}, "axis": {"x": "independent", "y": "independent"}}
}
